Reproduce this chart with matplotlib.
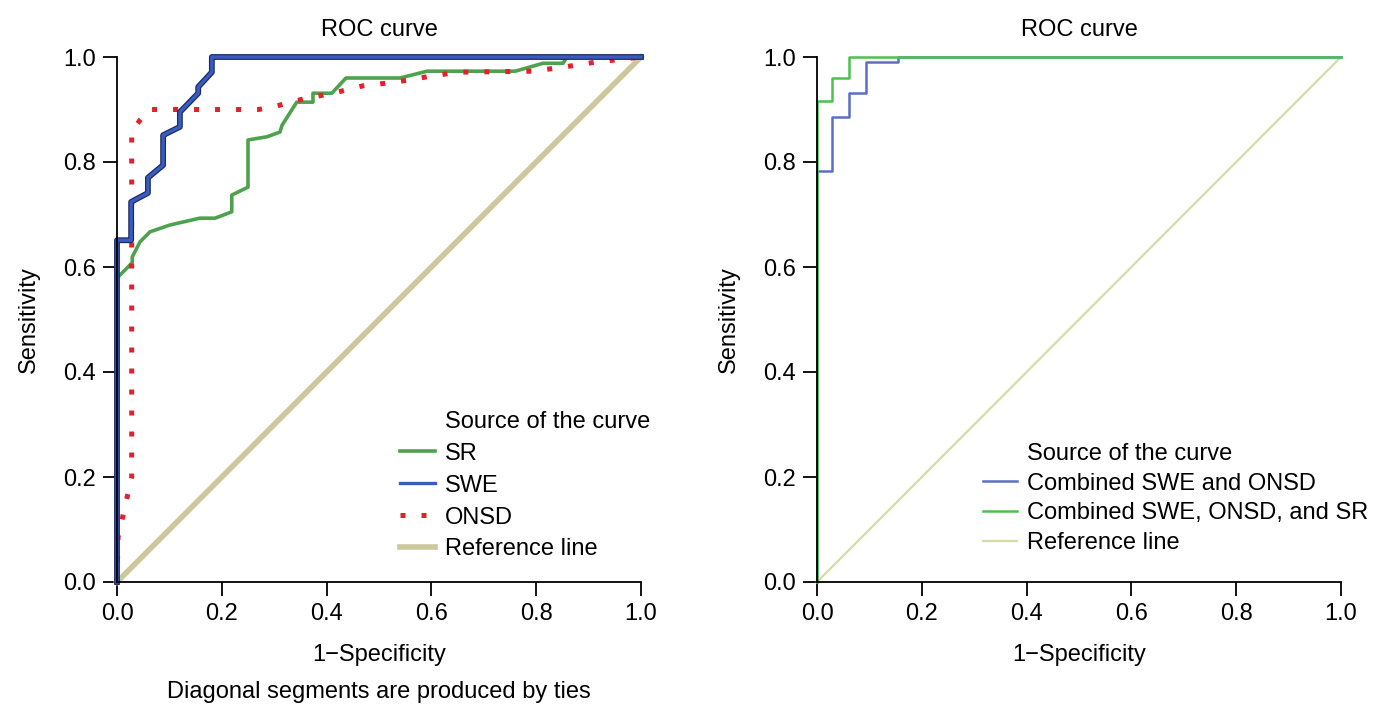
import matplotlib
matplotlib.use("Agg")
import matplotlib.pyplot as plt
from matplotlib.lines import Line2D

plt.rcParams['font.family'] = ['Liberation Sans', 'DejaVu Sans']

# Left panel: single markers
sr_x = [0.0, 0.029, 0.029, 0.044, 0.063, 0.101, 0.158, 0.187, 0.219, 0.219, 0.25, 0.25,
        0.286, 0.311, 0.315, 0.343, 0.374, 0.374, 0.41, 0.437, 0.54, 0.592, 0.76, 0.813,
        0.851, 0.859, 1.0]
sr_y = [0.579, 0.608, 0.619, 0.648, 0.667, 0.68, 0.693, 0.693, 0.705, 0.737, 0.752, 0.842,
        0.848, 0.857, 0.87, 0.914, 0.914, 0.931, 0.931, 0.96, 0.96, 0.973, 0.973, 0.988,
        0.988, 1.0, 1.0]

swe_x = [0.0, 0.0, 0.027, 0.027, 0.059, 0.059, 0.088, 0.088, 0.12, 0.12, 0.155, 0.155,
         0.181, 0.181, 1.0]
swe_y = [0.0, 0.651, 0.651, 0.724, 0.741, 0.77, 0.794, 0.851, 0.867, 0.895, 0.931, 0.943,
         0.971, 1.0, 1.0]

onsd_x = [0.0, 0.002, 0.028, 0.028, 0.044, 0.061, 0.27, 0.298, 0.355, 0.412, 0.469, 0.53,
          0.59, 0.649, 0.794, 0.853, 0.912, 1.0]
onsd_y = [0.0, 0.085, 0.2, 0.857, 0.88, 0.9, 0.9, 0.905, 0.92, 0.931, 0.945, 0.952,
          0.962, 0.971, 0.973, 0.981, 0.99, 1.0]

# Right panel: combined markers
comb2_x = [0.0, 0.0, 0.029, 0.029, 0.061, 0.061, 0.094, 0.094, 0.155, 0.155, 1.0]
comb2_y = [0.0, 0.783, 0.783, 0.886, 0.886, 0.931, 0.931, 0.99, 0.99, 1.0, 1.0]

comb3_x = [0.0, 0.0, 0.029, 0.029, 0.061, 0.061, 1.0]
comb3_y = [0.0, 0.916, 0.916, 0.96, 0.96, 1.0, 1.0]

ref_x = [0.0, 1.0]
ref_y = [0.0, 1.0]

ticks = [0.0, 0.2, 0.4, 0.6, 0.8, 1.0]
tick_labels = ['0.0', '0.2', '0.4', '0.6', '0.8', '1.0']

FS = 17

fig = plt.figure(figsize=(13.86, 7.04), dpi=100)
ax1 = fig.add_axes([117 / 1386, 122 / 704, 524 / 1386, 525 / 704])
ax2 = fig.add_axes([817 / 1386, 122 / 704, 524 / 1386, 525 / 704])


def style_axes(ax):
    ax.set_xlim(0, 1)
    ax.set_ylim(0, 1)
    ax.spines['top'].set_visible(False)
    ax.spines['right'].set_visible(False)
    ax.set_xticks(ticks)
    ax.set_yticks(ticks)
    ax.set_xticklabels(tick_labels)
    ax.set_yticklabels(tick_labels)
    ax.tick_params(direction='out', length=10, width=1.3, labelsize=FS, pad=5)
    for s in ['left', 'bottom']:
        ax.spines[s].set_linewidth(1.3)
    ax.set_title('ROC curve', fontsize=FS, pad=15)
    ax.set_xlabel('1\u2212Specificity', fontsize=FS, labelpad=14)
    ax.set_ylabel('Sensitivity', fontsize=FS, labelpad=17)


def add_legend(ax, handles, labels, anchor, spacing):
    # blank first row so the title lines up with the labels
    blank = Line2D([], [], color='none')
    ax.legend([blank] + handles, ['Source of the curve'] + labels,
              loc='lower left', bbox_to_anchor=anchor, frameon=False,
              fontsize=FS, handlelength=1.45, handletextpad=0.45,
              labelspacing=spacing, borderaxespad=0)


# left panel
ax1.plot(ref_x, ref_y, color='#cdc89c', lw=4, clip_on=False, label='Reference line')
ax1.plot(sr_x, sr_y, color='#4ea24e', lw=2.6, clip_on=False, label='SR')
ax1.plot(onsd_x, onsd_y, color='#e5202c', lw=3.6, linestyle=(0, (1, 3.2)),
         dash_capstyle='butt', clip_on=False, label='ONSD')
ax1.plot(swe_x, swe_y, color='#1c2a66', lw=4.2, clip_on=False)
ax1.plot(swe_x, swe_y, color='#3a5cc0', lw=2.4, clip_on=False, label='SWE')
style_axes(ax1)

h, l = ax1.get_legend_handles_labels()
order = ['SR', 'SWE', 'ONSD', 'Reference line']
hd = dict(zip(l, h))
add_legend(ax1, [hd[k] for k in order], order, (0.523, 0.023), 0.42)

fig.text((117 + 641) / 2 / 1386, 1 - 692 / 704, 'Diagonal segments are produced by ties',
         ha='center', va='center', fontsize=FS)

# right panel
ax2.plot(ref_x, ref_y, color='#d8dba6', lw=1.6, clip_on=False, label='Reference line')
ax2.plot(comb2_x, comb2_y, color='#5a6ec2', lw=1.8, clip_on=False,
         label='Combined SWE and ONSD')
ax2.plot(comb3_x, comb3_y, color='#4cc24c', lw=1.8, clip_on=False,
         label='Combined SWE, ONSD, and SR')
style_axes(ax2)

h, l = ax2.get_legend_handles_labels()
order = ['Combined SWE and ONSD', 'Combined SWE, ONSD, and SR', 'Reference line']
hd = dict(zip(l, h))
add_legend(ax2, [hd[k] for k in order], order, (0.298, 0.035), 0.33)

fig.savefig('out.png', dpi=100)
